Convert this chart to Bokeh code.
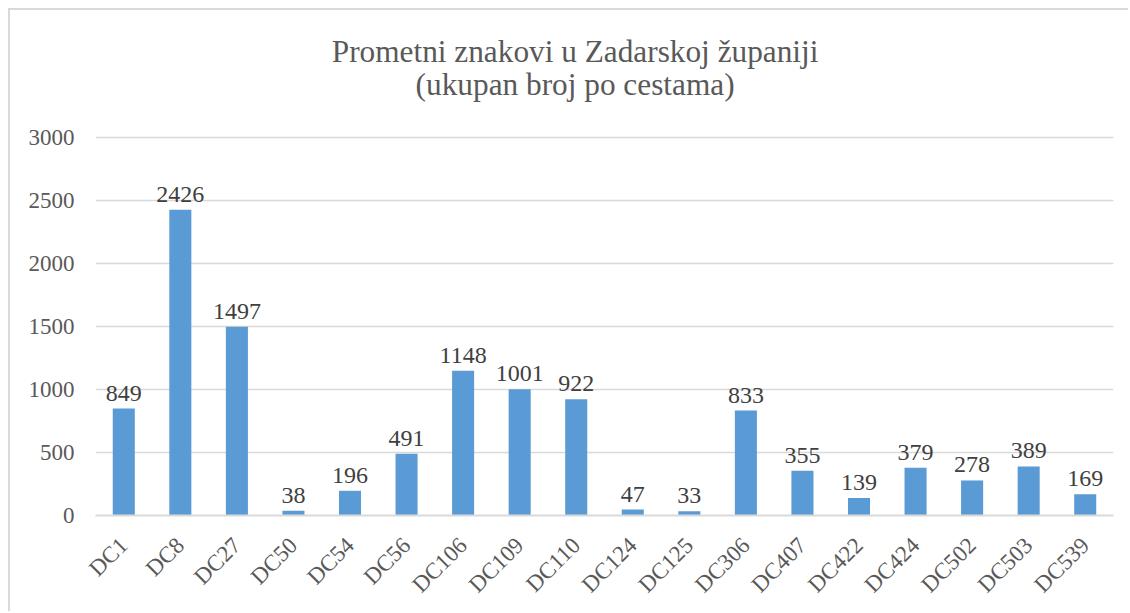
from bokeh.plotting import figure
from bokeh.models import ColumnDataSource, Label, LabelSet
from bokeh.embed import file_html
from bokeh.resources import INLINE
import math

roads = ["DC1", "DC8", "DC27", "DC50", "DC54", "DC56", "DC106", "DC109", "DC110",
         "DC124", "DC125", "DC306", "DC407", "DC422", "DC424", "DC502", "DC503", "DC539"]
counts = [849, 2426, 1497, 38, 196, 491, 1148, 1001, 922, 47, 33, 833, 355, 139, 379, 278, 389, 169]
y_ticks = [0, 500, 1000, 1500, 2000, 2500, 3000]
title_line1 = "Prometni znakovi u Zadarskoj županiji"
title_line2 = "(ukupan broj po cestama)"

FONT = "Liberation Serif"
GRID = "#d9d9d9"
TXT = "#595959"

source = ColumnDataSource(dict(road=roads, count=counts, label=[str(c) for c in counts]))

# y range extends above 3000 to leave room for the two-line title inside the canvas
p = figure(x_range=roads, y_range=(0, 3968), width=1120, height=603,
           output_backend="svg", toolbar_location=None,
           min_border_left=85, min_border_right=17, min_border_top=5, min_border_bottom=98)
p.title = None

p.vbar(x="road", top="count", width=0.39, source=source,
       fill_color="#5b9bd5", line_color="#5b9bd5", line_width=0)

labels = LabelSet(x="road", y="count", text="label", source=source,
                  text_align="center", text_baseline="alphabetic", y_offset=8,
                  text_font=FONT, text_font_size="24px", text_color="#404040")
p.add_layout(labels)

for txt, ypos in ((title_line1, 3682), (title_line2, 3420)):
    p.add_layout(Label(x=8.48, y=ypos, text=txt,
                       text_align="center", text_baseline="alphabetic",
                       text_font=FONT, text_font_size="31.3px", text_color=TXT))

p.outline_line_color = None
p.xgrid.grid_line_color = None
p.ygrid.grid_line_color = GRID
p.ygrid.grid_line_width = 1.5
p.yaxis.ticker = y_ticks
p.yaxis.axis_line_color = None
p.yaxis.major_tick_line_color = None
p.yaxis.minor_tick_line_color = None
p.yaxis.major_label_standoff = 15
p.yaxis.major_label_text_font = FONT
p.yaxis.major_label_text_font_size = "23px"
p.yaxis.major_label_text_color = TXT

p.xaxis.axis_line_color = GRID
p.xaxis.axis_line_width = 2
p.xaxis.major_tick_line_color = None
p.xaxis.minor_tick_line_color = None
p.xaxis.major_label_orientation = math.pi / 4
p.xaxis.major_label_standoff = 20
p.xaxis.major_label_text_font = FONT
p.xaxis.major_label_text_font_size = "23px"
p.xaxis.major_label_text_color = TXT
p.x_range.range_padding = 0

p.styles = {"margin-left": "8px", "margin-top": "8px",
            "border-left": "2px solid #d9d9d9", "border-top": "2px solid #d9d9d9"}

open("out.html", "w").write(file_html(p, INLINE))
